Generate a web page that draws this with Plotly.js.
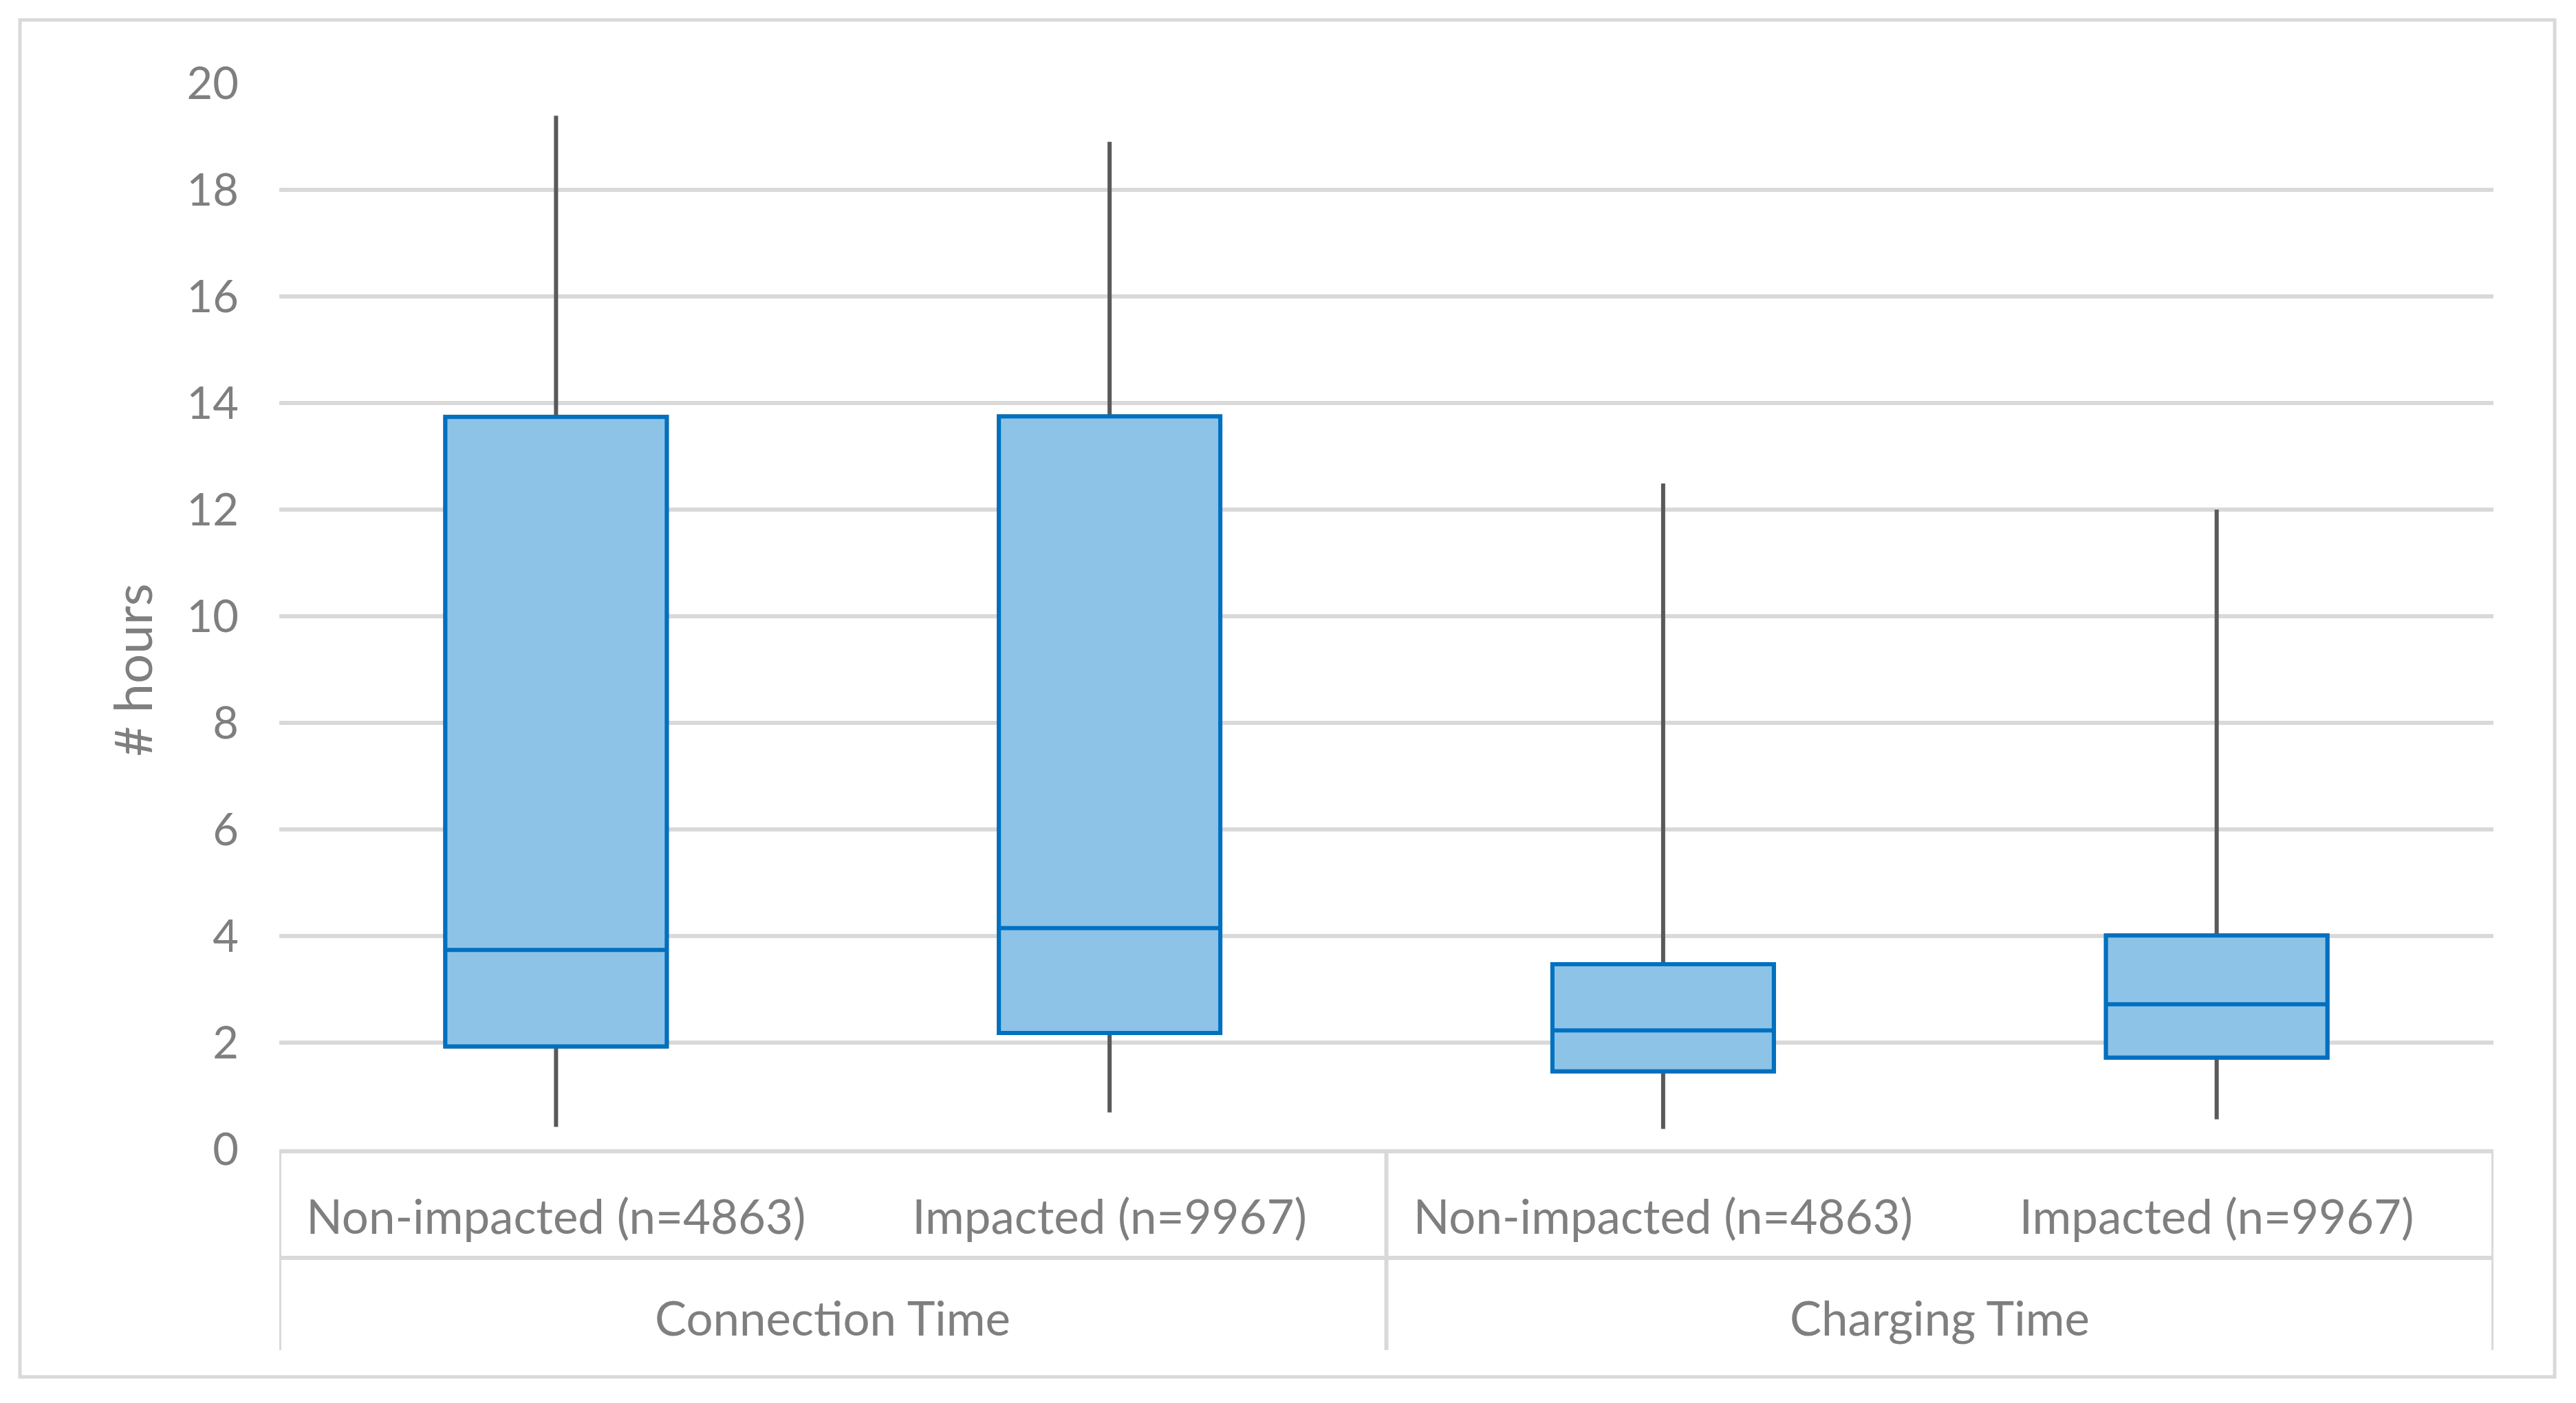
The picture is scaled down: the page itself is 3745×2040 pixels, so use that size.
<!DOCTYPE html>
<html>
<head>
<meta charset="utf-8">
<script src="https://cdn.plot.ly/plotly-3.0.1.min.js"></script>
<style>
html, body { margin: 0; padding: 0; background: #ffffff; }
#chart { width: 3745px; height: 2040px; }
</style>
</head>
<body>
<div id="chart"></div>
<script>
// ---- data ----
const groups = ["Connection Time", "Connection Time", "Charging Time", "Charging Time"];
const subgroups = ["Non-impacted (n=4863)", "Impacted (n=9967)", "Non-impacted (n=4863)", "Impacted (n=9967)"];
const minVals = [0.42, 0.69, 0.38, 0.56];
const q1Vals = [1.93, 2.18, 1.46, 1.72];
const medianVals = [3.74, 4.15, 2.23, 2.72];
const q3Vals = [13.74, 13.75, 3.47, 4.01];
const maxVals = [19.39, 18.90, 12.49, 12.00];
const yTicks = [0, 2, 4, 6, 8, 10, 12, 14, 16, 18, 20];
const yTitle = "# hours";

// ---- styling ----
const FONT = "Lato, 'Open Sans', sans-serif";
const TXT = "#7f7f7f";
const GRID = "#d9d9d9";

// layout geometry (pixels)
const W = 3745, H = 2040;
const L = 406, R = 3625, T = 121, B = 1671;
const pw = R - L, ph = B - T;
const px = v => (v - L) / pw;
const py = v => (B - v) / ph;

// category positions on the x axis
const xPos = subgroups.map((_, i) => i);

// group spans derived from the groups array
const groupNames = [...new Set(groups)];
const groupSpans = groupNames.map(g => {
  const idx = xPos.filter(i => groups[i] === g);
  return { name: g, start: Math.min(...idx), end: Math.max(...idx) };
});

const whiskers = {
  type: "box",
  x: xPos,
  q1: q1Vals, median: medianVals, q3: q3Vals,
  lowerfence: minVals, upperfence: maxVals,
  width: 0.4, whiskerwidth: 0,
  line: { color: "#595959", width: 6 },
  fillcolor: "rgba(0,0,0,0)",
  boxpoints: false, showlegend: false, hoverinfo: "skip"
};
const boxes = {
  type: "box",
  x: xPos,
  q1: q1Vals, median: medianVals, q3: q3Vals,
  lowerfence: q1Vals, upperfence: q3Vals,
  width: 0.4, whiskerwidth: 0,
  line: { color: "#0070C0", width: 6 },
  fillcolor: "#8DC3E6",
  boxpoints: false, showlegend: false
};

const shapes = [
  { type: "rect", xref: "paper", yref: "paper",
    x0: px(29), x1: px(3714), y0: py(2002), y1: py(29),
    line: { color: GRID, width: 5 }, fillcolor: "rgba(0,0,0,0)", layer: "below" },
  { type: "line", xref: "paper", yref: "paper",
    x0: 0, x1: 1, y0: py(1829), y1: py(1829),
    line: { color: GRID, width: 6 } }
];
// dividers at the group boundaries
const bounds = [groupSpans[0].start - 0.5].concat(groupSpans.map(s => s.end + 0.5));
bounds.forEach(b => shapes.push({
  type: "line", xref: "x", yref: "paper",
  x0: b, x1: b, y0: py(1671), y1: py(1963),
  line: { color: GRID, width: 6 }
}));

const annotations = [{
  text: yTitle, textangle: -90,
  xref: "paper", yref: "paper",
  x: px(191), y: py(974), xanchor: "center", yanchor: "middle",
  showarrow: false,
  font: { family: FONT, size: 76, color: TXT }
}];
groupSpans.forEach(s => annotations.push({
  text: s.name, xref: "x", yref: "paper",
  x: (s.start + s.end) / 2, y: py(1915),
  xanchor: "center", yanchor: "middle", showarrow: false,
  font: { family: FONT, size: 69, color: TXT }
}));

const layout = {
  width: W, height: H,
  margin: { l: L, r: W - R, t: T, b: H - B, pad: 0 },
  paper_bgcolor: "#ffffff", plot_bgcolor: "#ffffff",
  boxmode: "overlay",
  font: { family: FONT, color: TXT, size: 65 },
  xaxis: {
    range: [-0.5, subgroups.length - 0.5],
    tickvals: xPos, ticktext: subgroups,
    showline: true, linecolor: GRID, linewidth: 6,
    showgrid: false, zeroline: false, ticks: "",
    ticklabelstandoff: 34,
    tickfont: { family: FONT, size: 69, color: TXT }
  },
  yaxis: {
    range: [0, 20], tickvals: yTicks, ticktext: yTicks.map(String),
    showgrid: true, gridcolor: GRID, gridwidth: 6,
    showline: false, zeroline: false, ticks: "",
    ticklabelstandoff: 58,
    tickfont: { family: FONT, size: 65, color: TXT }
  },
  annotations: annotations,
  shapes: shapes
};

Plotly.newPlot("chart", [whiskers, boxes], layout, { staticPlot: true, displayModeBar: false });
</script>
</body>
</html>
